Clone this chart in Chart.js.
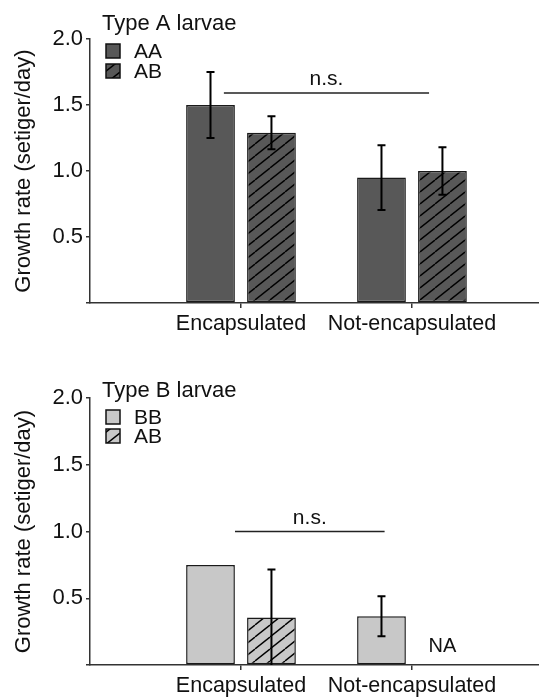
<!DOCTYPE html>
<html>
<head>
<meta charset="utf-8">
<script src="https://cdn.jsdelivr.net/npm/chart.js@4.4.1/dist/chart.umd.min.js"></script>
<style>
  html, body { margin: 0; padding: 0; background: #fff; overflow: hidden; }
  .panel { position: absolute; left: 0; width: 539px; height: 349px; }
  #panelA { top: 0; }
  #panelB { top: 349px; }
</style>
</head>
<body>
<div class="panel" id="panelA"><canvas id="chartA"></canvas></div>
<div class="panel" id="panelB"><canvas id="chartB"></canvas></div>
<script>
const categories = ['Encapsulated', 'Not-encapsulated'];
const categoryPositions = [1, 2];
const yTicks = [0, 0.5, 1.0, 1.5, 2.0];

// Type A larvae
const typeA_AA = [1.50, 0.95];
const typeA_AA_err = [0.25, 0.245];
const typeA_AB = [1.29, 1.00];
const typeA_AB_err = [0.125, 0.18];
const typeA_ns = [0.90, 2.10, 1.59]; // from, to, level

// Type B larvae
const typeB_BB = [0.75, 0.365];
const typeB_BB_err = [null, 0.15];
const typeB_AB = [0.355, null];
const typeB_AB_err = [0.36, null];
const typeB_ns = [0.965, 1.84, 1.0];

const FONT = "'Liberation Sans', Arial, Helvetica, sans-serif";
const INK = '#111';
const DARK = '#585858';
const LIGHT = '#c8c8c8';

Chart.defaults.font.family = FONT;
Chart.defaults.color = INK;

function makeHatch(bg) {
  const w = 15, h = 12;
  const c = document.createElement('canvas');
  c.width = w; c.height = h;
  const g = c.getContext('2d');
  g.fillStyle = bg;
  g.fillRect(0, 0, w, h);
  g.strokeStyle = '#000';
  g.lineWidth = 1.4;
  for (let k = -1; k <= 1; k++) {
    g.beginPath();
    g.moveTo(k * w, h);
    g.lineTo(k * w + w, 0);
    g.stroke();
  }
  return g.createPattern(c, 'repeat');
}

const toPoints = vals => categoryPositions.map((x, i) => ({ x, y: vals[i] }));

const annotPlugin = {
  id: 'annot',
  afterDatasetsDraw(chart, args, opts) {
    const ctx = chart.ctx;
    const ys = chart.scales.y, xs = chart.scales.x;
    ctx.save();
    // error bars
    chart.data.datasets.forEach((ds, di) => {
      const meta = chart.getDatasetMeta(di);
      (ds.errors || []).forEach((e, j) => {
        const v = ds.data[j].y;
        if (e == null || v == null) return;
        const x = meta.data[j].x;
        const top = ys.getPixelForValue(v + e);
        const bot = ys.getPixelForValue(Math.max(0, v - e));
        ctx.strokeStyle = '#000';
        ctx.lineWidth = 2;
        ctx.beginPath();
        ctx.moveTo(x, top); ctx.lineTo(x, bot);
        ctx.moveTo(x - 4, top); ctx.lineTo(x + 4, top);
        if (v - e > 0) { ctx.moveTo(x - 4, bot); ctx.lineTo(x + 4, bot); }
        ctx.stroke();
      });
    });
    // n.s. bracket
    const [from, to, level] = opts.ns;
    const x1 = xs.getPixelForValue(from), x2 = xs.getPixelForValue(to);
    const yl = ys.getPixelForValue(level);
    ctx.strokeStyle = '#222';
    ctx.lineWidth = 1.5;
    ctx.beginPath();
    ctx.moveTo(x1, yl); ctx.lineTo(x2, yl);
    ctx.stroke();
    ctx.fillStyle = INK;
    ctx.font = '21px ' + FONT;
    ctx.textAlign = 'center';
    ctx.textBaseline = 'alphabetic';
    ctx.fillText('n.s.', (x1 + x2) / 2, yl - 8);
    // missing value
    chart.data.datasets.forEach((ds, di) => {
      if (!ds.naLabel) return;
      const meta = chart.getDatasetMeta(di);
      ds.data.forEach((p, j) => {
        if (p.y != null) return;
        let x = meta.data[j] ? meta.data[j].x : NaN;
        if (!isFinite(x)) {
          const m0 = chart.getDatasetMeta(0);
          x = m0.data[j].x + (meta.data[0].x - m0.data[0].x);
        }
        ctx.font = '20px ' + FONT;
        ctx.fillText('NA', x, ys.getPixelForValue(0) - 13);
      });
    });
    ctx.restore();
  }
};

const legendPlugin = {
  id: 'panelLegend',
  afterDraw(chart, args, opts) {
    const ctx = chart.ctx;
    ctx.save();
    ctx.textAlign = 'left';
    ctx.textBaseline = 'alphabetic';
    ctx.fillStyle = INK;
    ctx.font = '22px ' + FONT;
    ctx.fillText(opts.title, 102, opts.titleY);
    chart.data.datasets.forEach((ds, i) => {
      const y = opts.boxY[i];
      ctx.fillStyle = ds.backgroundColor;
      ctx.fillRect(106, y, 14, 14);
      ctx.strokeStyle = INK;
      ctx.lineWidth = 1.5;
      ctx.strokeRect(106, y, 14, 14);
      ctx.fillStyle = INK;
      ctx.font = '21px ' + FONT;
      ctx.fillText(ds.label, 134, y + 14);
    });
    ctx.restore();
  }
};

function buildChart(id, cfg) {
  return new Chart(document.getElementById(id), {
    type: 'bar',
    data: {
      datasets: cfg.series.map(s => ({
        label: s.label,
        data: toPoints(s.values),
        errors: s.errors,
        naLabel: true,
        backgroundColor: s.hatch ? makeHatch(cfg.fill) : cfg.fill,
        borderColor: '#1a1a1a',
        borderWidth: 1.5,
        borderSkipped: false,
        categoryPercentage: 0.713,
        barPercentage: 0.8
      }))
    },
    options: {
      responsive: true,
      maintainAspectRatio: false,
      animation: false,
      layout: { padding: { top: cfg.chartTop, left: 0, right: 0, bottom: 0 } },
      plugins: {
        legend: { display: false },
        tooltip: { enabled: false },
        annot: { ns: cfg.ns },
        panelLegend: { title: cfg.title, titleY: cfg.titleY, boxY: cfg.boxY }
      },
      scales: {
        x: {
          type: 'linear',
          offset: false,
          bounds: 'data',
          min: 0.117,
          max: 2.743,
          afterBuildTicks: s => { s.ticks = categoryPositions.map(v => ({ value: v })); },
          afterFit: s => { s.height = cfg.xAxisHeight; },
          ticks: {
            callback: (v, i) => categories[i],
            font: { size: 21.5 },
            color: INK,
            padding: 3,
            autoSkip: false,
            maxRotation: 0
          },
          grid: { offset: false, drawOnChartArea: false, tickLength: 5, color: '#333', lineWidth: 1.5 },
          border: { display: true, color: '#333', width: 1.5 }
        },
        y: {
          min: 0,
          max: 2,
          afterBuildTicks: s => { s.ticks = yTicks.map(v => ({ value: v })); },
          afterFit: s => { s.width = 90; },
          ticks: {
            callback: v => v === 0 ? '' : v.toFixed(1),
            font: { size: 22 },
            color: INK,
            padding: 3
          },
          grid: { drawOnChartArea: false, tickLength: 4, color: '#333', lineWidth: 1.5 },
          border: { display: true, color: '#333', width: 1.5 },
          title: {
            display: true,
            text: 'Growth rate (setiger/day)',
            font: { size: 22 },
            color: INK,
            padding: { top: 11, bottom: 0 }
          }
        }
      }
    },
    plugins: [annotPlugin, legendPlugin]
  });
}

buildChart('chartA', {
  title: 'Type A larvae',
  titleY: 30,
  boxY: [44, 64],
  chartTop: 39,
  xAxisHeight: 46,
  fill: DARK,
  ns: typeA_ns,
  series: [
    { label: 'AA', values: typeA_AA, errors: typeA_AA_err, hatch: false },
    { label: 'AB', values: typeA_AB, errors: typeA_AB_err, hatch: true }
  ]
});

buildChart('chartB', {
  title: 'Type B larvae',
  titleY: 48,
  boxY: [61, 80],
  chartTop: 49,
  xAxisHeight: 33,
  fill: LIGHT,
  ns: typeB_ns,
  series: [
    { label: 'BB', values: typeB_BB, errors: typeB_BB_err, hatch: false },
    { label: 'AB', values: typeB_AB, errors: typeB_AB_err, hatch: true }
  ]
});
</script>
</body>
</html>
